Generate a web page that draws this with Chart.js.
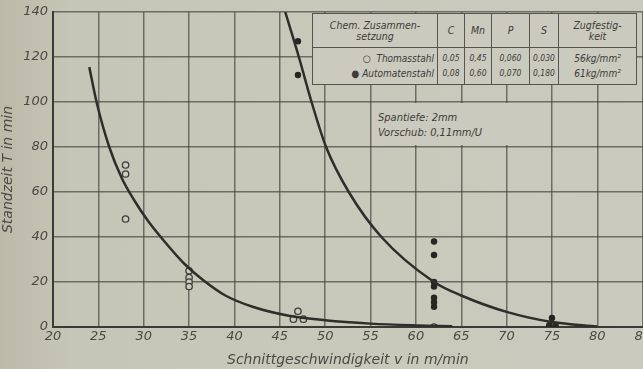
<!DOCTYPE html>
<html>
<head>
<meta charset="utf-8">
<script src="https://cdn.jsdelivr.net/npm/chart.js@4.4.1/dist/chart.umd.min.js"></script>
<style>
    html, body { margin: 0; padding: 0; }
    body { width: 643px; height: 369px; overflow: hidden;
        background: linear-gradient(to right, #bbbaa8 0px, #c6c6b8 70px, #cacabe 643px); }
    #wrap { position: relative; width: 643px; height: 369px; overflow: hidden; }
    #chart { position: absolute; left: 0; top: 0; }
    .ink { color: #3c3c38; font-family: "DejaVu Sans Condensed", "DejaVu Sans", sans-serif; font-style: italic; }
    #compo { position: absolute; left: 312px; top: 13px; border-collapse: collapse; background: #cacabe; }
    #compo td { border: 1.5px solid #55554e; padding: 0; text-align: center; line-height: 1; }
    #compo .head td { height: 33px; font-size: 10.5px; }
    #compo .body td { height: 36px; font-size: 8.5px; line-height: 15px; }
    #note { position: absolute; left: 372px; top: 103px; width: 177px; height: 42px; background: #cacabe;
        font-size: 11px; line-height: 15px; padding: 7px 0 0 6px; box-sizing: border-box; }
</style>
</head>
<body>
<div id="wrap">
    <canvas id="chart" width="648" height="369"></canvas>
    <table id="compo" class="ink">
        <tr class="head">
            <td style="width:124px">Chem. Zusammen-<br>setzung</td>
            <td style="width:26px">C</td>
            <td style="width:26px">Mn</td>
            <td style="width:37px">P</td>
            <td style="width:28px">S</td>
            <td style="width:77px">Zugfestig-<br>keit</td>
        </tr>
        <tr class="body">
            <td style="text-align:right;padding-right:3px;font-size:10px">○&nbsp;&nbsp;Thomasstahl<br>●&nbsp;Automatenstahl</td>
            <td>0,05<br>0,08</td>
            <td>0,45<br>0,60</td>
            <td>0,060<br>0,070</td>
            <td>0,030<br>0,180</td>
            <td style="font-size:10px">56kg/mm²<br>61kg/mm²</td>
        </tr>
    </table>
    <div id="note" class="ink">Spantiefe: 2mm<br>Vorschub: 0,11mm/U</div>
</div>
<script>
// measured points (open = Thomasstahl, filled = Automatenstahl)
const thomasX = [28, 28, 28, 35, 35, 35, 35, 47, 46.5, 47.6, 62];
const thomasY = [72, 68, 48, 25, 22, 20, 18, 7, 3.5, 3.5, 0];
const autoX = [47, 47, 62, 62, 62, 62, 62, 62, 62, 75, 74.7, 75.4];
const autoY = [127, 112, 38, 32, 20, 18, 13, 11, 9, 4, 0.8, 0.8];

// fitted curves
const thomasCurveX = [24.0, 24.8, 26.2, 27.6, 29, 30.5, 32.5, 34.5, 36.5, 39, 42, 46, 50, 55, 60, 64];
const thomasCurveY = [115.5, 100, 80, 66, 56, 47, 37, 28, 21, 14, 9, 5, 3, 1.5, 0.7, 0.3];
const autoCurveX = [45.6, 47.1, 48.5, 50.1, 52.6, 56.2, 62, 65, 70, 75, 80];
const autoCurveY = [140, 120, 100, 80, 60, 40, 20, 14, 6.7, 2.2, 0.2];

const xRange = [20, 85];
const yRange = [0, 140];

const ink = '#3c3c38';
const gridInk = 'rgba(70, 70, 64, 0.7)';
const tickFont = { family: "'DejaVu Sans', sans-serif", size: 13, style: 'italic' };
const titleFont = { family: "'DejaVu Sans', sans-serif", size: 14, style: 'italic' };

const pairs = (xs, ys) => xs.map((x, i) => ({ x, y: ys[i] }));

new Chart(document.getElementById('chart').getContext('2d'), {
    type: 'scatter',
    data: {
        datasets: [{
            label: 'Thomasstahl Kurve',
            data: pairs(thomasCurveX, thomasCurveY),
            showLine: true,
            borderColor: '#2e2e2a',
            borderWidth: 2.5,
            pointRadius: 0,
            cubicInterpolationMode: 'monotone'
        }, {
            label: 'Automatenstahl Kurve',
            data: pairs(autoCurveX, autoCurveY),
            showLine: true,
            borderColor: '#2e2e2a',
            borderWidth: 2.5,
            pointRadius: 0,
            cubicInterpolationMode: 'monotone'
        }, {
            label: 'Thomasstahl',
            data: pairs(thomasX, thomasY),
            pointRadius: 3.2,
            pointBorderWidth: 1.3,
            pointBorderColor: ink,
            pointBackgroundColor: '#cacabe'
        }, {
            label: 'Automatenstahl',
            data: pairs(autoX, autoY),
            pointRadius: 3.2,
            pointBorderWidth: 0,
            pointBackgroundColor: '#262622'
        }]
    },
    options: {
        responsive: false,
        animation: false,
        layout: { padding: { top: 12, right: 0, left: 0, bottom: 0 } },
        plugins: {
            legend: { display: false },
            tooltip: { enabled: false }
        },
        scales: {
            x: {
                type: 'linear',
                min: xRange[0],
                max: xRange[1],
                ticks: { stepSize: 5, color: '#4a4a44', font: tickFont, padding: 2 },
                grid: { color: gridInk, lineWidth: 1.5, drawTicks: false },
                border: { color: '#3a3a36', width: 2 },
                title: { display: true, text: 'Schnittgeschwindigkeit v in m/min', color: '#4a4a44', font: titleFont, padding: { top: 1, bottom: 0 } },
                afterFit: scale => {
                    scale.height = 42;
                    scale.paddingLeft = 0;
                    scale.paddingRight = 0;
                }
            },
            y: {
                min: yRange[0],
                max: yRange[1],
                ticks: { stepSize: 20, color: '#4a4a44', font: tickFont, padding: 5 },
                grid: { color: gridInk, lineWidth: 1.5, drawTicks: false },
                border: { color: '#3a3a36', width: 2 },
                title: { display: true, text: 'Standzeit T in min', color: '#4a4a44', font: titleFont, padding: { top: 0, bottom: 1 } },
                afterFit: scale => {
                    scale.width = 53;
                    scale.paddingTop = 0;
                    scale.paddingBottom = 0;
                }
            }
        }
    }
});
</script>
</body>
</html>
